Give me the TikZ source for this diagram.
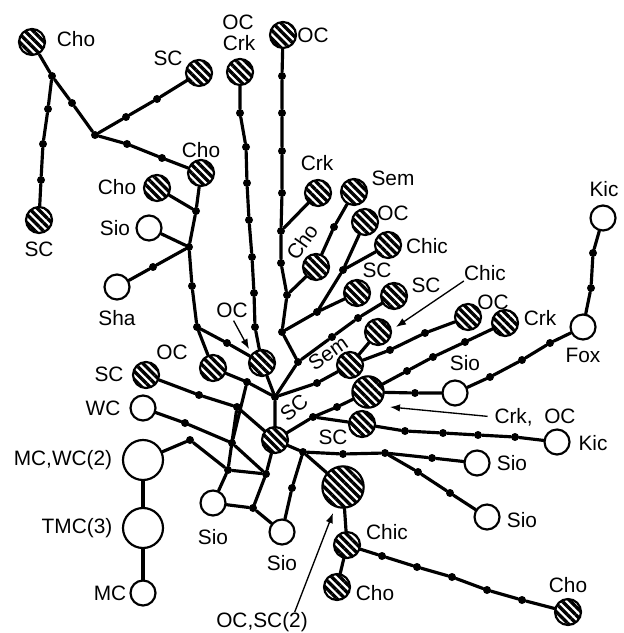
\documentclass[tikz,border=0pt]{standalone}
\usepackage{fontspec}
\setmainfont{Liberation Sans}
\usetikzlibrary{patterns.meta,arrows.meta}

\tikzset{
  link/.style={line width=1.9pt, line cap=round, line join=round},
  hs/.style={circle, draw, line width=1.3pt, inner sep=0pt, minimum size=15.6pt,
    pattern={Lines[angle=-45,distance=3.5pt,line width=1.95pt]}},
  hm/.style={hs, minimum size=18.8pt},
  hl/.style={hs, minimum size=24.8pt},
  os/.style={circle, draw, line width=1.3pt, inner sep=0pt, minimum size=15pt, fill=white},
  ol/.style={os, minimum size=24pt},
  dot/.style={circle, fill, inner sep=0pt, minimum size=4.8pt},
  lab/.style={inner sep=0pt, font=\fontsize{12.5pt}{14pt}\selectfont},
  pointer/.style={line width=0.8pt, -{Latex[length=6pt,width=4.5pt]}}
}

\begin{document}
\begin{tikzpicture}[x=0.6pt,y=-0.6pt]
  \useasboundingbox (0,0) rectangle (623,633);

  % hatched haplotypes
  \node[name=choA, hs] at (32,42) {};
  \node[name=scA, hs] at (39,220) {};
  \node[name=scB, hs] at (199,73) {};
  \node[name=choB, hs] at (201,173) {};
  \node[name=choC, hs] at (157,188) {};
  \node[name=ocCrk, hs] at (240,72) {};
  \node[name=ocA, hs] at (283,35) {};
  \node[name=crkA, hs] at (318,193) {};
  \node[name=semA, hs] at (354,192) {};
  \node[name=choD, hs] at (316,267) {};
  \node[name=ocB, hs] at (365,222) {};
  \node[name=chicA, hs] at (388,245) {};
  \node[name=scC, hs] at (357,293) {};
  \node[name=scD, hs] at (394,296) {};
  \node[name=chicB, hs] at (378,332) {};
  \node[name=semB, hs] at (350,365) {};
  \node[name=ocC, hs] at (468,317) {};
  \node[name=crkB, hs] at (505,323) {};
  \node[name=ocD, hs] at (213,368) {};
  \node[name=ocE, hs] at (262,363) {};
  \node[name=scE, hs] at (146,375) {};
  \node[name=scF, hs] at (275,440) {};
  \node[name=scG, hs] at (362,424) {};
  \node[name=chicC, hs] at (347,545) {};
  \node[name=choE, hs] at (337,587) {};
  \node[name=choF, hs] at (568,612) {};
  \node[name=crkOC, hm] at (368,392) {};
  \node[name=ocSC, hl] at (343,487) {};

  % open haplotypes
  \node[name=sioA, os] at (149,228) {};
  \node[name=shaA, os] at (117,287) {};
  \node[name=wcA, os] at (143,408) {};
  \node[name=mcwc, ol] at (143,460) {};
  \node[name=tmc, ol] at (143,528) {};
  \node[name=mcA, os] at (143,593) {};
  \node[name=sioB, os] at (213,503) {};
  \node[name=sioC, os] at (282,532) {};
  \node[name=sioD, os] at (455,393) {};
  \node[name=foxA, os] at (583,327) {};
  \node[name=kicA, os] at (603,218) {};
  \node[name=kicB, os] at (557,442) {};
  \node[name=sioE, os] at (477,463) {};
  \node[name=sioF, os] at (487,517) {};

  % junctions and steps
  \node[name=j1, dot] at (52,76) {};
  \node[name=a1, dot] at (72,103) {};
  \node[name=j2, dot] at (95,135) {};
  \node[name=a2, dot] at (48,109) {};
  \node[name=a3, dot] at (43,144) {};
  \node[name=a4, dot] at (41,180) {};
  \node[name=a5, dot] at (126,117) {};
  \node[name=a6, dot] at (157,99) {};
  \node[name=a7, dot] at (127,144) {};
  \node[name=a8, dot] at (162,158) {};
  \node[name=j3, dot] at (196,211) {};
  \node[name=j4, dot] at (189,247) {};
  \node[name=a9, dot] at (192,286) {};
  \node[name=j5, dot] at (197,327) {};
  \node[name=a10, dot] at (153,267) {};
  \node[name=a11, dot] at (227,343) {};
  \node[name=b1, dot] at (240,113) {};
  \node[name=b2, dot] at (246,147) {};
  \node[name=b3, dot] at (247,183) {};
  \node[name=b4, dot] at (249,220) {};
  \node[name=b5, dot] at (252,257) {};
  \node[name=b6, dot] at (254,293) {};
  \node[name=b7, dot] at (255,327) {};
  \node[name=c1, dot] at (282,76) {};
  \node[name=c2, dot] at (282,113) {};
  \node[name=c3, dot] at (282,151) {};
  \node[name=c4, dot] at (282,193) {};
  \node[name=j6, dot] at (281,231) {};
  \node[name=c5, dot] at (281,263) {};
  \node[name=j7, dot] at (287,295) {};
  \node[name=j8, dot] at (282,332) {};
  \node[name=c6, dot] at (334,227) {};
  \node[name=j9, dot] at (317,312) {};
  \node[name=j10, dot] at (343,270) {};
  \node[name=j11, dot] at (298,362) {};
  \node[name=c7, dot] at (332,337) {};
  \node[name=c8, dot] at (358,318) {};
  \node[name=j12, dot] at (275,397) {};
  \node[name=e1, dot] at (247,382) {};
  \node[name=e2, dot] at (317,383) {};
  \node[name=e3, dot] at (390,350) {};
  \node[name=e4, dot] at (425,333) {};
  \node[name=e5, dot] at (313,417) {};
  \node[name=e6, dot] at (337,407) {};
  \node[name=e7, dot] at (405,431) {};
  \node[name=e8, dot] at (443,433) {};
  \node[name=e9, dot] at (478,435) {};
  \node[name=e10, dot] at (515,437) {};
  \node[name=e11, dot] at (407,371) {};
  \node[name=e12, dot] at (433,357) {};
  \node[name=e13, dot] at (465,342) {};
  \node[name=e14, dot] at (415,393) {};
  \node[name=e15, dot] at (490,377) {};
  \node[name=e16, dot] at (522,360) {};
  \node[name=e17, dot] at (550,343) {};
  \node[name=e18, dot] at (591,288) {};
  \node[name=e19, dot] at (593,253) {};
  \node[name=j13, dot] at (303,452) {};
  \node[name=e20, dot] at (343,454) {};
  \node[name=j14, dot] at (385,453) {};
  \node[name=e21, dot] at (432,458) {};
  \node[name=e22, dot] at (418,472) {};
  \node[name=e23, dot] at (450,493) {};
  \node[name=e24, dot] at (292,488) {};
  \node[name=f1, dot] at (382,556) {};
  \node[name=f2, dot] at (417,567) {};
  \node[name=f3, dot] at (452,577) {};
  \node[name=f4, dot] at (487,590) {};
  \node[name=f5, dot] at (522,600) {};
  \node[name=g1, dot] at (199,395) {};
  \node[name=jA, dot] at (237,407) {};
  \node[name=g2, dot] at (185,423) {};
  \node[name=jB, dot] at (232,443) {};
  \node[name=jC, dot] at (190,440) {};
  \node[name=jD, dot] at (228,470) {};
  \node[name=jE, dot] at (266,474) {};
  \node[name=jF, dot] at (253,508) {};

  % links
  \draw[link] (choA) -- (j1) -- (a1) -- (j2);
  \draw[link] (j1) -- (a2) -- (a3) -- (a4) -- (scA);
  \draw[link] (j2) -- (a5) -- (a6) -- (scB);
  \draw[link] (j2) -- (a7) -- (a8) -- (choB);
  \draw[link] (choB) -- (j3) -- (j4) -- (a9) -- (j5);
  \draw[link] (choC) -- (j3);
  \draw[link] (sioA) -- (j4);
  \draw[link] (shaA) -- (a10) -- (j4);
  \draw[link] (j5) -- (ocD);
  \draw[link] (j5) -- (a11) -- (ocE);
  \draw[link] (ocCrk) -- (b1) -- (b2) -- (b3) -- (b4) -- (b5) -- (b6) -- (b7) -- (ocE);
  \draw[link] (ocA) -- (c1) -- (c2) -- (c3) -- (c4) -- (j6) -- (c5) -- (j7) -- (j8);
  \draw[link] (j6) -- (crkA);
  \draw[link] (j7) -- (choD) -- (c6) -- (semA);
  \draw[link] (j8) -- (j9) -- (j10) -- (ocB);
  \draw[link] (j10) -- (chicA);
  \draw[link] (j9) -- (scC);
  \draw[link] (j8) -- (j11) -- (c7) -- (c8) -- (scD);
  \draw[link] (j11) -- (j12) -- (scF);
  \draw[link] (ocE) -- (j12);
  \draw[link] (ocD) -- (e1) -- (j12);
  \draw[link] (j12) -- (e2) -- (semB) -- (chicB);
  \draw[link] (semB) -- (e3) -- (e4) -- (ocC);
  \draw[link] (scF) -- (e5) -- (e6) -- (crkOC);
  \draw[link] (e5) -- (scG) -- (e7) -- (e8) -- (e9) -- (e10) -- (kicB);
  \draw[link] (crkOC) -- (e11) -- (e12) -- (e13) -- (crkB);
  \draw[link] (crkOC) -- (e14) -- (sioD) -- (e15) -- (e16) -- (e17) -- (foxA) -- (e18) -- (e19) -- (kicA);
  \draw[link] (scF) -- (j13) -- (e20) -- (j14) -- (e21) -- (sioE);
  \draw[link] (j14) -- (e22) -- (e23) -- (sioF);
  \draw[link] (j13) -- (ocSC) -- (chicC) -- (choE);
  \draw[link] (j13) -- (e24) -- (sioC);
  \draw[link] (chicC) -- (f1) -- (f2) -- (f3) -- (f4) -- (f5) -- (choF);
  \draw[link] (scE) -- (g1) -- (jA) -- (scF);
  \draw[link] (wcA) -- (g2) -- (jB) -- (jE);
  \draw[link] (mcwc) -- (jC) -- (jD) -- (jE) -- (scF);
  \draw[link] (e1) -- (jB);
  \draw[link] (jA) -- (jD) -- (sioB) -- (jF) -- (sioC);
  \draw[link] (jF) -- (jE);
  \draw[link] (mcwc) -- (tmc) -- (mcA);

  % labels
  \node[name=lchoA, lab] at (76,39) {Cho};
  \node[name=lscB, lab] at (168,58) {SC};
  \node[name=lscA, lab] at (39,249) {SC};
  \node[name=lchoB, lab] at (201,150) {Cho};
  \node[name=lchoC, lab] at (117,187) {Cho};
  \node[name=lsioA, lab] at (115,228) {Sio};
  \node[name=lshaA, lab] at (117,318) {Sha};
  \node[name=locCrk1, lab] at (238,22) {OC};
  \node[name=locCrk2, lab] at (239,43) {Crk};
  \node[name=locA, lab] at (313,35) {OC};
  \node[name=lcrkA, lab] at (317,163) {Crk};
  \node[name=lsemA, lab] at (393,178) {Sem};
  \node[name=lchoD, lab, rotate=55] at (302,242) {Cho};
  \node[name=locB, lab] at (393,213) {OC};
  \node[name=lchicA, lab] at (427,246) {Chic};
  \node[name=lscC, lab] at (377,270) {SC};
  \node[name=lscD, lab] at (426,285) {SC};
  \node[name=locC, lab] at (493,302) {OC};
  \node[name=lcrkB, lab] at (540,318) {Crk};
  \node[name=lkicA, lab] at (604,189) {Kic};
  \node[name=lfoxA, lab] at (583,355) {Fox};
  \node[name=lsioD, lab] at (465,363) {Sio};
  \node[name=lkicB, lab] at (593,443) {Kic};
  \node[name=lsioE, lab] at (512,463) {Sio};
  \node[name=lsioF, lab] at (522,520) {Sio};
  \node[name=lscG, lab] at (333,437) {SC};
  \node[name=lsemB, lab, rotate=35] at (328,353) {Sem};
  \node[name=lscF, lab, rotate=40] at (294,408) {SC};
  \node[name=locD, lab] at (172,352) {OC};
  \node[name=lscE, lab] at (109,374) {SC};
  \node[name=lwcA, lab] at (103,408) {WC};
  \node[name=lmcwc, lab] at (63,460) {MC,WC(2)};
  \node[name=ltmc, lab] at (77,528) {TMC(3)};
  \node[name=lmcA, lab] at (110,593) {MC};
  \node[name=lsioB, lab] at (213,537) {Sio};
  \node[name=lsioC, lab] at (282,563) {Sio};
  \node[name=lchicC, lab] at (387,532) {Chic};
  \node[name=lchoE, lab] at (375,593) {Cho};
  \node[name=lchoF, lab] at (568,585) {Cho};

  % pointers
  \node[name=lpOC, lab] at (232,310) {OC};
  \coordinate (tpOC) at (249,349);
  \draw[pointer, shorten <=2pt] (lpOC.south) -- (tpOC);
  \node[name=lpChic, lab] at (485,273) {Chic};
  \coordinate (tpChic) at (396,327);
  \draw[pointer] (lpChic.south west) -- (tpChic);
  \node[name=lpCrk, lab] at (535,417) {Crk,\ \ OC};
  \coordinate (tpCrk) at (390,407);
  \draw[pointer, shorten <=4pt] (lpCrk.west) -- (tpCrk);
  \node[name=lpOCSC, lab] at (262,622) {OC,SC(2)};
  \coordinate (tpOCSC) at (333,513);
  \draw[pointer] ([xshift=-8pt]lpOCSC.north east) -- (tpOCSC);
\end{tikzpicture}
\end{document}
